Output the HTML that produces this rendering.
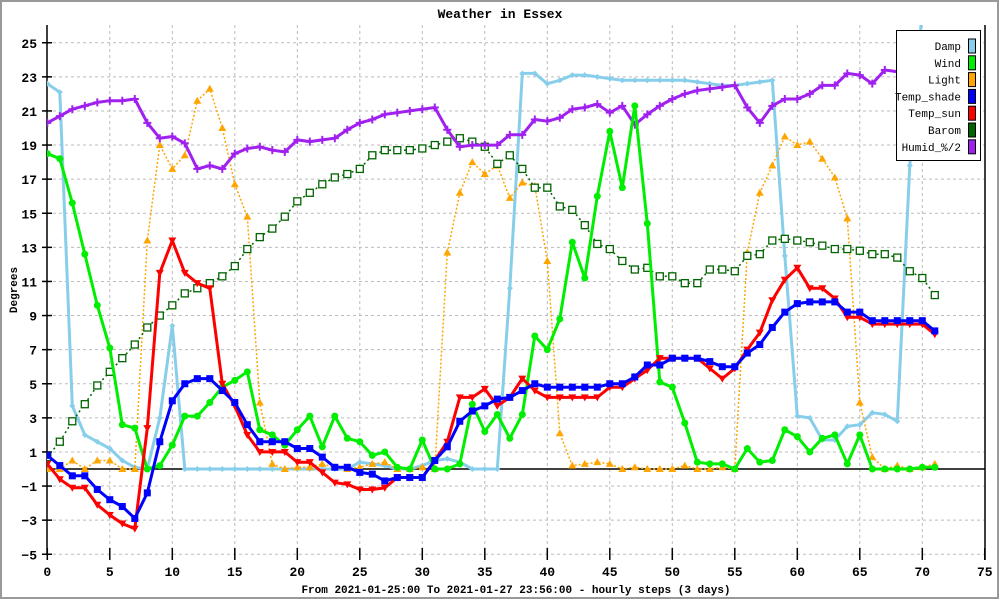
<!DOCTYPE html>
<html><head><meta charset="utf-8"><style>
body{margin:0;background:#fff;}
#wrap{width:1000px;height:600px;position:relative;overflow:hidden;}
text{font-family:"Liberation Mono","DejaVu Sans Mono",monospace;}
</style></head><body>
<div id="wrap">
<svg id="chart" width="1000" height="600"></svg>
</div>
<script>
const hours = Array.from({length:72},(_, i)=>i);
const xTicks = [0,5,10,15,20,25,30,35,40,45,50,55,60,65,70,75];
const yTicks = [-5,-3,-1,1,3,5,7,9,11,13,15,17,19,21,23,25];
const damp = [22.6,22.1,3.7,2.0,1.6,1.2,0.5,0.1,0,3,8.4,0,0,0,0,0,0,0,0,0,0,0,0,0,0,0.4,0.3,0.2,0,0,0.2,0.5,0.6,0.4,0,0,0,10.6,23.2,23.2,22.6,22.8,23.1,23.1,23.0,22.9,22.8,22.8,22.8,22.8,22.8,22.8,22.7,22.6,22.5,22.5,22.6,22.7,22.8,12.5,3.1,3.0,1.7,1.7,2.5,2.6,3.3,3.2,2.8,17.8,27,27];
const wind = [18.5,18.2,15.6,12.6,9.6,7.1,2.6,2.4,0,0.2,1.4,3.1,3.1,3.9,4.8,5.2,5.7,2.3,2.0,1.4,2.3,3.1,1.3,3.1,1.8,1.6,0.8,1.0,0.1,0,1.7,0,0,0.3,3.8,2.2,3.2,1.8,3.2,7.8,7.0,8.8,13.3,11.2,16.0,19.8,16.5,21.3,14.4,5.1,4.8,2.7,0.4,0.3,0.3,0,1.2,0.4,0.5,2.3,1.9,1.0,1.8,2.0,0.3,2.0,0,0,0,0,0.1,0.1];
const light = [0,0,0.5,0,0.5,0.5,0,0,13.4,19.0,17.6,18.4,21.6,22.3,20.0,16.7,14.8,3.9,0.3,0,0.1,0.1,0.3,0.1,0,0.1,0.3,0.4,0,0,0.1,0,12.7,16.2,18.0,17.3,17.8,15.9,16.8,16.6,12.2,2.1,0.2,0.3,0.4,0.3,0,0.1,0,0,0,0.2,0,0,0.1,0,12.7,16.2,17.8,19.5,19.0,19.2,18.2,17.1,14.7,3.9,0.7,0,0.2,0,0.1,0.3];
const tempShade = [0.8,0.2,-0.4,-0.4,-1.2,-1.8,-2.2,-2.9,-1.4,1.6,4.0,5.0,5.3,5.3,4.6,3.9,2.6,1.6,1.6,1.6,1.2,1.2,0.7,0.1,0.1,-0.2,-0.3,-0.7,-0.5,-0.5,-0.5,0.5,1.3,2.8,3.4,3.7,4.1,4.2,4.6,5.0,4.8,4.8,4.8,4.8,4.8,5.0,5.0,5.4,6.1,6.1,6.5,6.5,6.5,6.3,6.0,6.0,6.8,7.3,8.3,9.2,9.7,9.8,9.8,9.8,9.2,9.2,8.7,8.7,8.7,8.7,8.7,8.1];
const tempSun = [0.3,-0.6,-1.1,-1.1,-2.1,-2.7,-3.2,-3.5,2.4,11.5,13.4,11.5,10.9,10.6,5.0,3.7,2.0,1.0,1.0,1.0,0.4,0.4,-0.2,-0.8,-0.9,-1.2,-1.2,-1.1,-0.5,-0.5,-0.5,0.5,1.6,4.2,4.2,4.7,3.7,4.2,5.3,4.6,4.2,4.2,4.2,4.2,4.2,4.8,4.8,5.3,5.8,6.5,6.5,6.5,6.5,5.9,5.3,5.9,7.0,8.0,9.9,11.1,11.8,10.6,10.6,10.0,8.9,8.9,8.5,8.5,8.5,8.5,8.5,7.9];
const barom = [0.7,1.6,2.8,3.8,4.9,5.7,6.5,7.3,8.3,9.0,9.6,10.3,10.6,10.9,11.3,11.9,12.9,13.6,14.1,14.8,15.7,16.2,16.7,17.1,17.3,17.6,18.4,18.7,18.7,18.7,18.8,19.0,19.2,19.4,19.2,18.9,17.9,18.4,17.6,16.5,16.5,15.4,15.2,14.3,13.2,12.9,12.2,11.7,11.8,11.3,11.3,10.9,10.9,11.7,11.7,11.6,12.5,12.6,13.4,13.5,13.4,13.3,13.1,12.9,12.9,12.8,12.6,12.6,12.4,11.6,11.2,10.2];
const humid = [20.3,20.7,21.1,21.3,21.5,21.6,21.6,21.7,20.3,19.4,19.5,19.1,17.6,17.8,17.6,18.5,18.8,18.9,18.7,18.6,19.3,19.2,19.3,19.4,19.9,20.3,20.5,20.8,20.9,21.0,21.1,21.2,19.9,18.9,19.0,19.0,19.0,19.6,19.6,20.5,20.4,20.6,21.1,21.2,21.4,20.9,21.3,20.2,20.8,21.3,21.7,22.0,22.2,22.3,22.4,22.5,21.2,20.3,21.3,21.7,21.7,22.0,22.5,22.5,23.2,23.1,22.6,23.4,23.3,23.1,23.0,23.0];

const NS='http://www.w3.org/2000/svg';
const svg=document.getElementById('chart');
const X0=47.3, PX=12.5, Y0=469, PY=17.05;
const PL=47, PR=985, PT=25, PB=554;
function sx(v){return X0+v*PX;}
function sy(v){return Y0-v*PY;}
function mk(tag,attrs,parent){const e=document.createElementNS(NS,tag);for(const k in attrs)e.setAttribute(k,attrs[k]);(parent||svg).appendChild(e);return e;}

const frame=mk('rect',{x:1,y:1,width:997,height:597,fill:'#fff',stroke:'#999',"stroke-width":2});



const title=mk('text',{x:500,y:18,"text-anchor":"middle","font-size":13,"font-weight":"bold"});
title.textContent='Weather in Essex';



const grid=mk('g',{stroke:'#bbb',"stroke-dasharray":'3,3',"stroke-width":1});


yTicks.forEach(v=>{mk('line',{x1:PL,x2:PR,y1:sy(v),y2:sy(v)},grid);});
xTicks.forEach(v=>{if(v>0&&v<75)mk('line',{x1:sx(v),x2:sx(v),y1:PT,y2:PB},grid);});

const axes=mk('g',{stroke:'#000',"stroke-width":1.5});


mk('line',{x1:PL,x2:PL,y1:PT,y2:PB},axes);
mk('line',{x1:PR,x2:PR,y1:PT,y2:PB+6},axes);
mk('line',{x1:PL,x2:PR,y1:sy(0),y2:sy(0)},axes);

const yAx=mk('g',{});


yTicks.forEach(v=>{
  mk('line',{x1:PL-5,x2:PL+5,y1:sy(v),y2:sy(v),stroke:'#000',"stroke-width":1.5},yAx);
  const t=mk('text',{x:PL-10,y:sy(v)+5,"text-anchor":"end","font-size":13,"font-weight":"bold"},yAx);
  t.textContent=String(v).replace('-','−');
});
const xAx=mk('g',{});


xTicks.forEach(v=>{
  mk('line',{x1:sx(v),x2:sx(v),y1:PB-6,y2:PB+6,stroke:'#000',"stroke-width":1.5},xAx);
  const t=mk('text',{x:sx(v),y:PB+22,"text-anchor":"middle","font-size":13,"font-weight":"bold"},xAx);
  t.textContent=v;
});
const yt=mk('text',{x:17,y:290,"text-anchor":"middle","font-size":11,"font-weight":"bold",transform:'rotate(-90 17 290)'});
yt.textContent='Degrees';


const xt=mk('text',{x:516,y:593,"text-anchor":"middle","font-size":11,"font-weight":"bold"});
xt.textContent='From 2021-01-25:00 To 2021-01-27 23:56:00 - hourly steps (3 days)';



mk('clipPath',{id:'clip'},mk('defs',{})).appendChild(Object.assign(document.createElementNS(NS,'rect'),{}));
document.querySelector('#clip rect').setAttribute('x',PL);
document.querySelector('#clip rect').setAttribute('y',PT);
document.querySelector('#clip rect').setAttribute('width',PR-PL);
document.querySelector('#clip rect').setAttribute('height',PB-PT);

function marker(g,type,x,y,c){
  if(type==='diamond'){mk('path',{d:`M${x-3} ${y}L${x} ${y-3}L${x+3} ${y}L${x} ${y+3}Z`,fill:c},g);}
  else if(type==='circle'){mk('circle',{cx:x,cy:y,r:3.5,fill:c},g);}
  else if(type==='tri'){mk('path',{d:`M${x-4} ${y+3}L${x} ${y-4}L${x+4} ${y+3}Z`,fill:c},g);}
  else if(type==='square'){mk('rect',{x:x-3.5,y:y-3.5,width:7,height:7,fill:c},g);}
  else if(type==='dtri'){mk('path',{d:`M${x-4} ${y-3}L${x} ${y+4}L${x+4} ${y-3}Z`,fill:c},g);}
  else if(type==='osq'){mk('rect',{x:x-3.5,y:y-3.5,width:7,height:7,fill:'#fff',stroke:c,"stroke-width":1.3},g);}
  else if(type==='plus'){mk('path',{d:`M${x-4} ${y}H${x+4}M${x} ${y-4}V${x+4-x+y}`,stroke:c,"stroke-width":2},g);}
}
const series=[
 {name:'damp',data:damp,color:'#87ceeb',w:3,dash:null,m:'diamond'},
 {name:'light',data:light,color:'#ffa500',w:1.5,dash:'2,2',m:'tri'},
 {name:'barom',data:barom,color:'#006400',w:1.5,dash:'2,3',m:'osq'},
 {name:'humid',data:humid,color:'#a020f0',w:3,dash:null,m:'plus'},
 {name:'wind',data:wind,color:'#00ee00',w:3,dash:null,m:'circle'},
 {name:'temp-sun',data:tempSun,color:'#ff0000',w:3,dash:null,m:'dtri'},
 {name:'temp-shade',data:tempShade,color:'#0000ff',w:3,dash:null,m:'square'}
];
series.forEach(s=>{
  const g=mk('g',{"clip-path":'url(#clip)'});
  
  
  const pts=s.data.map((v,i)=>sx(hours[i]).toFixed(1)+','+sy(v).toFixed(1)).join(' ');
  const a={points:pts,fill:'none',stroke:s.color,"stroke-width":s.w,"stroke-linejoin":'round'};
  if(s.dash)a["stroke-dasharray"]=s.dash;
  if(s.name==='damp')a.stroke='#87ceeb';
  mk('polyline',a,g);
  s.data.forEach((v,i)=>marker(g,s.m,sx(hours[i]),sy(v),s.color));
});

const leg=mk('g',{});


mk('rect',{x:896.5,y:30.5,width:84,height:130,fill:'#fff',stroke:'#000'},leg);
const legNames=['Damp','Wind','Light','Temp_shade','Temp_sun','Barom','Humid_%/2'];
const legColors=['#87ceeb','#00ee00','#ffa500','#0000ff','#ff0000','#006400','#a020f0'];
legNames.forEach((n,i)=>{
  const y=46+i*16.8;
  const t=mk('text',{x:961,y:y+4,"text-anchor":"end","font-size":11},leg);
  t.textContent=n;
  mk('rect',{x:968.5,y:y-7,width:7,height:14,fill:legColors[i],stroke:'#000'},leg);
});
</script>
</body></html>
